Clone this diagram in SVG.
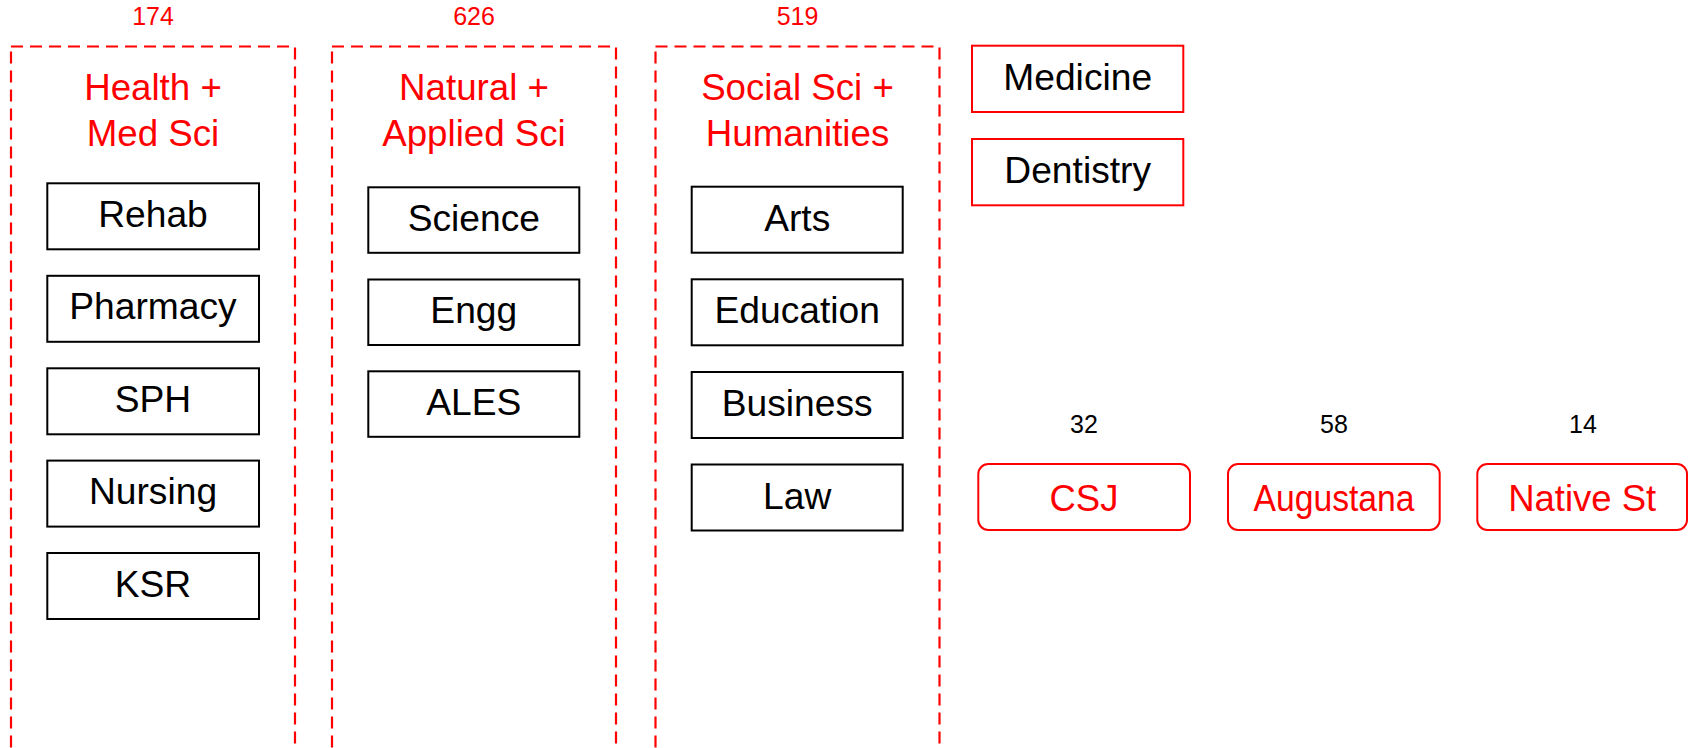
<svg xmlns="http://www.w3.org/2000/svg" width="1688" height="748" viewBox="0 0 1688 748">
<style>
  text { font-family: "Liberation Sans", Arial, sans-serif; text-anchor: middle; }
  .grp { fill: none; stroke: #FF0000; stroke-width: 2.2; stroke-dasharray: 12 7; }
  .box { fill: #FFFFFF; stroke: #000000; stroke-width: 2; }
  .rbox { fill: #FFFFFF; stroke: #FF0000; stroke-width: 2; }
  .lbl { font-size: 37.2px; fill: #000000; }
  .rlbl { font-size: 36.5px; fill: #FF0000; }
  .title { font-size: 36.7px; fill: #FF0000; }
  .num { font-size: 25px; }
</style>
<rect width="1688" height="748" fill="#FFFFFF"/>

<g id="group-health">
  <text class="num" x="153" y="25" fill="#FF0000">174</text>
  <rect class="grp" x="11" y="46.5" width="284" height="760"/>
  <text class="title" x="153" y="100">Health +</text>
  <text class="title" x="153" y="145.7">Med Sci</text>
</g>
<g id="node-rehab"><rect class="box" x="47.3" y="183.3" width="211.7" height="66"/><text class="lbl" x="153" y="226.5">Rehab</text></g>
<g id="node-pharmacy"><rect class="box" x="47.3" y="275.8" width="211.7" height="66"/><text class="lbl" x="153" y="319.3">Pharmacy</text></g>
<g id="node-sph"><rect class="box" x="47.3" y="368.3" width="211.7" height="66"/><text class="lbl" x="153" y="411.8">SPH</text></g>
<g id="node-nursing"><rect class="box" x="47.3" y="460.6" width="211.7" height="66"/><text class="lbl" x="153" y="504.2">Nursing</text></g>
<g id="node-ksr"><rect class="box" x="47.3" y="553" width="211.7" height="66"/><text class="lbl" x="153" y="596.6">KSR</text></g>

<g id="group-natural">
  <text class="num" x="474" y="25" fill="#FF0000">626</text>
  <rect class="grp" x="332" y="46.5" width="284" height="760"/>
  <text class="title" x="474" y="100">Natural +</text>
  <text class="title" x="474" y="145.7">Applied Sci</text>
</g>
<g id="node-science"><rect class="box" x="368.3" y="187.3" width="211" height="65.5"/><text class="lbl" x="473.8" y="230.7">Science</text></g>
<g id="node-engg"><rect class="box" x="368.3" y="279.5" width="211" height="65.5"/><text class="lbl" x="473.8" y="322.9">Engg</text></g>
<g id="node-ales"><rect class="box" x="368.3" y="371.3" width="211" height="65.5"/><text class="lbl" x="473.8" y="414.7">ALES</text></g>

<g id="group-social">
  <text class="num" x="797.5" y="25" fill="#FF0000">519</text>
  <rect class="grp" x="655.5" y="46.5" width="284" height="760"/>
  <text class="title" x="797.5" y="100">Social Sci +</text>
  <text class="title" x="797.5" y="145.7">Humanities</text>
</g>
<g id="node-arts"><rect class="box" x="691.7" y="186.7" width="211" height="66"/><text class="lbl" x="797.2" y="230.7">Arts</text></g>
<g id="node-education"><rect class="box" x="691.7" y="279.3" width="211" height="66"/><text class="lbl" x="797.2" y="323.2">Education</text></g>
<g id="node-business"><rect class="box" x="691.7" y="372" width="211" height="66"/><text class="lbl" x="797.2" y="415.9">Business</text></g>
<g id="node-law"><rect class="box" x="691.7" y="464.5" width="211" height="66"/><text class="lbl" x="797.2" y="508.5">Law</text></g>

<g id="node-medicine"><rect class="rbox" x="972" y="45.7" width="211.3" height="66.3"/><text class="lbl" x="1077.7" y="89.7">Medicine</text></g>
<g id="node-dentistry"><rect class="rbox" x="972" y="139" width="211.3" height="66.3"/><text class="lbl" x="1077.7" y="183">Dentistry</text></g>

<g id="node-csj">
  <text class="num" x="1084" y="433" fill="#000000">32</text>
  <rect class="rbox" x="978.3" y="464" width="211.7" height="66" rx="10" ry="10"/>
  <text class="rlbl" x="1084" y="511">CSJ</text>
</g>
<g id="node-augustana">
  <text class="num" x="1334" y="433" fill="#000000">58</text>
  <rect class="rbox" x="1228" y="464" width="211.7" height="66" rx="10" ry="10"/>
  <text class="rlbl" x="1334" y="511" textLength="161" lengthAdjust="spacingAndGlyphs">Augustana</text>
</g>
<g id="node-native">
  <text class="num" x="1583" y="433" fill="#000000">14</text>
  <rect class="rbox" x="1477.3" y="464" width="209.7" height="66" rx="10" ry="10"/>
  <text class="rlbl" x="1582.2" y="511">Native St</text>
</g>

<g id="connectors"></g>
</svg>
